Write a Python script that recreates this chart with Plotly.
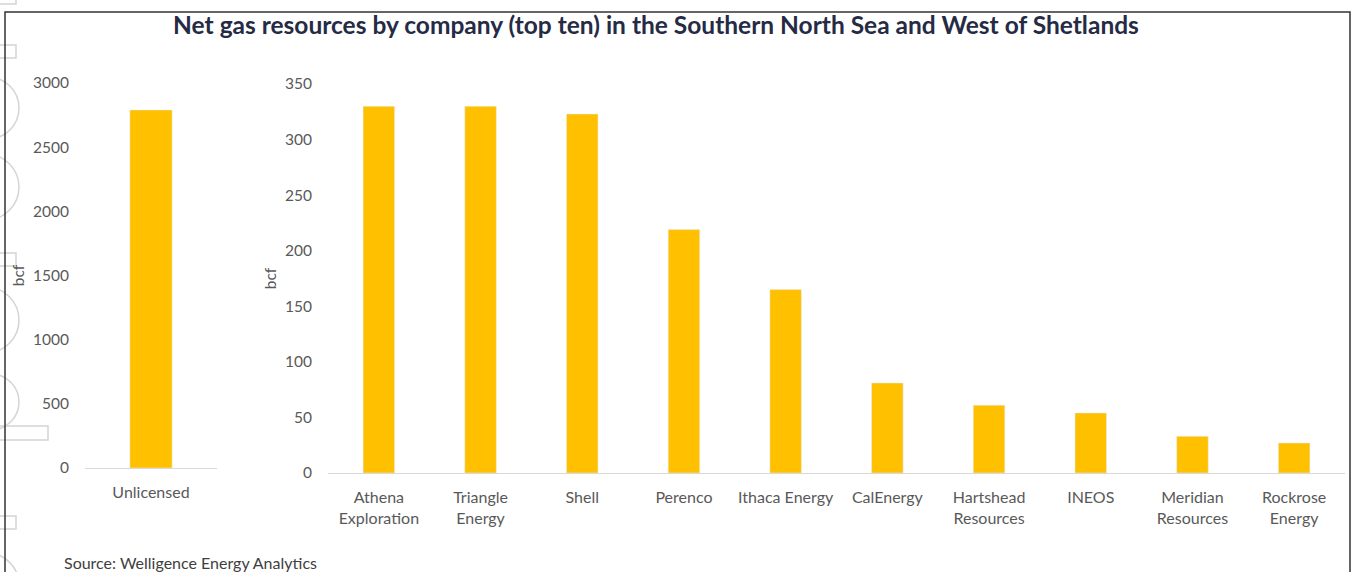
import plotly.graph_objects as go

W, H = 1354, 572

left_categories = ["Unlicensed"]
left_values = [2790]

companies = ["Athena<br>Exploration", "Triangle<br>Energy", "Shell", "Perenco", "Ithaca Energy",
             "CalEnergy", "Hartshead<br>Resources", "INEOS", "Meridian<br>Resources", "Rockrose<br>Energy"]
company_values = [330, 330, 323, 219, 165, 81, 61, 54, 33, 27]

left_ticks = [0, 500, 1000, 1500, 2000, 2500, 3000]
right_ticks = [0, 50, 100, 150, 200, 250, 300, 350]

BAR = "#FFC000"
TICK = "#595959"
FONT = "Lato"

def fx(px):
    return px / W

def fy(py):
    return 1 - py / H

fig = go.Figure()
fig.add_trace(go.Bar(x=left_categories, y=left_values, marker_color=BAR, width=0.32,
                     xaxis="x", yaxis="y", showlegend=False))
fig.add_trace(go.Bar(x=companies, y=company_values, marker_color=BAR, width=0.31,
                     xaxis="x2", yaxis="y2", showlegend=False))

yfont = dict(family=FONT, size=15.5, color=TICK)
xfont = dict(family=FONT, size=16, color=TICK)

deco = dict(color="#D4D4D4", width=1.5)
shapes = [dict(type="rect", xref="paper", yref="paper", x0=fx(5), x1=fx(1350), y0=-0.05, y1=fy(12),
               line=dict(color="#333333", width=1.5), layer="above")]
for (y0, y1, x1) in [(-4, 4, 16), (45, 58, 16), (253, 266, 16), (426, 440, 48), (516, 529, 16)]:
    shapes.append(dict(type="rect", xref="paper", yref="paper", x0=fx(-10), x1=fx(x1),
                       y0=fy(y1), y1=fy(y0), line=deco, layer="below"))
for (cy, r) in [(108, 31), (187, 33), (320, 33), (402, 28), (585, 32)]:
    shapes.append(dict(type="circle", xref="paper", yref="paper", x0=fx(19 - 2 * r), x1=fx(19),
                       y0=fy(cy + r), y1=fy(cy - r), line=deco, layer="below"))

fig.update_layout(
    width=W, height=H, autosize=False,
    margin=dict(l=0, r=0, t=0, b=0, pad=0),
    paper_bgcolor="white", plot_bgcolor="rgba(0,0,0,0)",
    font=dict(family=FONT, color=TICK),
    xaxis=dict(domain=[fx(85), fx(217)], showgrid=False, showline=True, linecolor="#D9D9D9",
               linewidth=1, tickfont=xfont, ticks="", ticklabelstandoff=10, fixedrange=True,
               automargin=False),
    yaxis=dict(domain=[fy(468), fy(83)], range=[0, 3000], tickvals=left_ticks, showgrid=False,
               zeroline=False, showline=False, tickfont=yfont, ticklabelstandoff=15,
               automargin=False, title=dict(text="bcf", font=yfont, standoff=4)),
    xaxis2=dict(domain=[fx(328), fx(1345)], anchor="y2", showgrid=False, showline=True,
                linecolor="#D9D9D9", linewidth=1, tickfont=xfont, ticks="",
                ticklabelstandoff=10, automargin=False),
    yaxis2=dict(domain=[fy(473), fy(84)], anchor="x2", range=[0, 350], tickvals=right_ticks,
                showgrid=False, zeroline=False, showline=False, tickfont=yfont,
                ticklabelstandoff=15, automargin=False, title=dict(text="bcf", font=yfont, standoff=4)),
    title=dict(text="<b>Net gas resources by company (top ten) in the Southern North Sea and West of Shetlands</b>",
               x=fx(656), xanchor="center", y=fy(25), yanchor="middle", yref="container",
               font=dict(family=FONT, size=24.5, color="#262B45")),
    annotations=[dict(text="Source: Welligence Energy Analytics", xref="paper", yref="paper",
                      x=fx(62), y=fy(562), xanchor="left", yanchor="middle", showarrow=False,
                      font=dict(family=FONT, size=16, color="#404040"))],
    shapes=shapes,
)

fig.write_html("out.html", config={"displayModeBar": False},
               post_script="document.body.style.margin='0';document.body.style.overflow='hidden';")
